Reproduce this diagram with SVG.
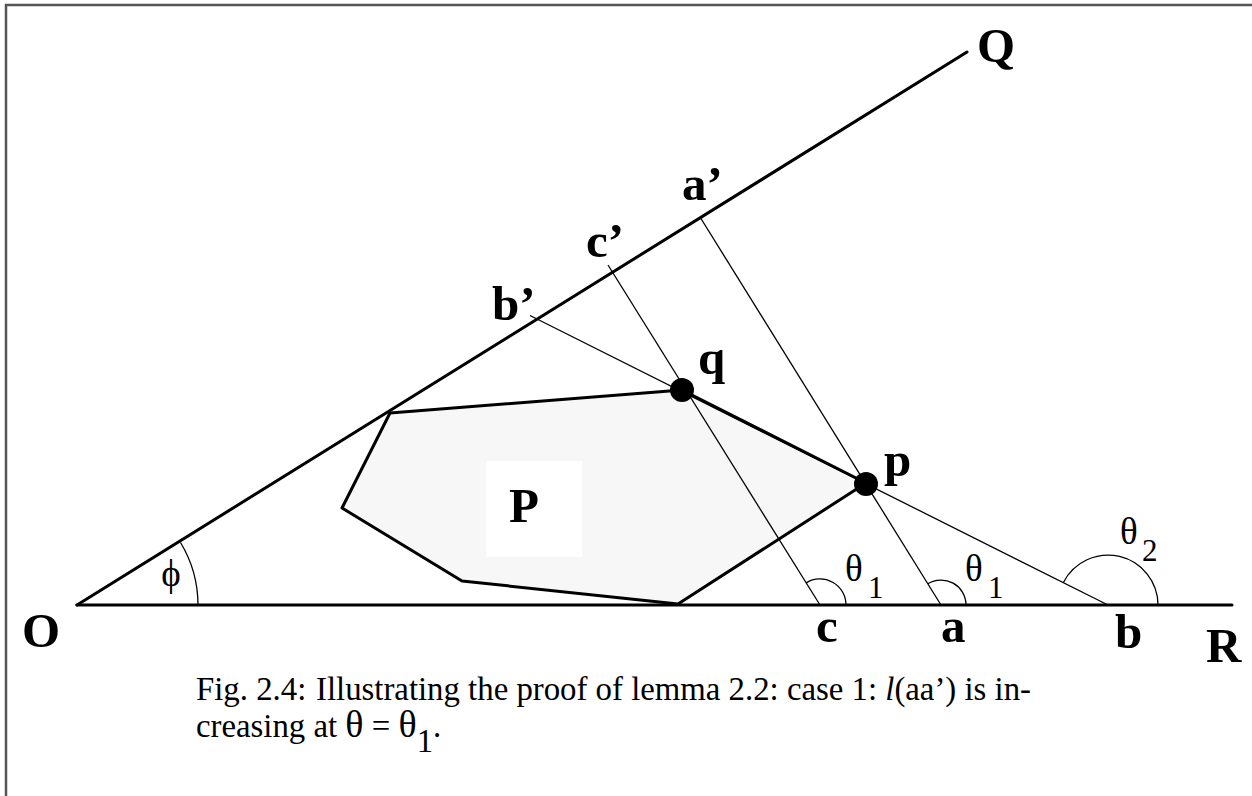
<svg xmlns="http://www.w3.org/2000/svg" width="1252" height="796" viewBox="0 0 1252 796">
<style>
.thick{stroke:#000;stroke-width:3;fill:none;stroke-linecap:round;stroke-linejoin:round}
.thin{stroke:#000;stroke-width:1.3;fill:none}
.lbl{font-family:"Liberation Serif","Times New Roman",serif;font-weight:bold;font-size:49px;fill:#000}
.gr{font-family:"Liberation Serif","Times New Roman",serif;font-size:37px;fill:#000}
.sub{font-family:"Liberation Serif","Times New Roman",serif;font-size:31px;fill:#000}
.cap{font-family:"Liberation Serif","Times New Roman",serif;font-size:32.8px;fill:#000}
.dot{fill:#000}
</style>
<rect width="1252" height="796" fill="#fff"/>
<path d="M6,796 V5 H1252" fill="none" stroke="#555" stroke-width="2.5"/>

<g id="polygon-P">
<polygon points="390,413 682,390 866,483 678,604 462,581 342,508" fill="#f7f7f7" stroke="#000" stroke-width="3" stroke-linejoin="round"/>
<rect x="486" y="461" width="96" height="96" fill="#fff"/>
<text class="lbl" x="509" y="522">P</text>
</g>

<g id="connectors">
<line class="thick" x1="77" y1="605" x2="967" y2="52"/>
<line class="thick" x1="77" y1="605" x2="1232" y2="605"/>
<line class="thin" x1="530" y1="315.5" x2="1108" y2="605"/>
<line class="thin" x1="608" y1="265" x2="820" y2="605"/>
<line class="thin" x1="700" y1="217" x2="941" y2="605"/>
<path class="thin" d="M198,605 A121,121 0 0 0 180.5,542.5"/>
<path class="thin" d="M846,605 A26,26 0 0 0 806.2,582.9"/>
<path class="thin" d="M966,605 A25,25 0 0 0 927.8,583.8"/>
<path class="thin" d="M1158,605 A50,50 0 0 0 1063.4,582.5"/>
</g>

<g id="point-q">
<circle class="dot" cx="682" cy="390" r="12"/>
<text class="lbl" x="698" y="374">q</text>
</g>
<g id="point-p">
<circle class="dot" cx="866" cy="484" r="12"/>
<text class="lbl" x="884" y="476">p</text>
</g>

<g id="label-O"><text class="lbl" x="22" y="647">O</text></g>
<g id="label-Q"><text class="lbl" x="977" y="62">Q</text></g>
<g id="label-R"><text class="lbl" x="1206" y="662">R</text></g>
<g id="label-a1"><text class="lbl" x="682" y="200">a’</text></g>
<g id="label-c1"><text class="lbl" x="586" y="257">c’</text></g>
<g id="label-b1"><text class="lbl" x="492" y="320">b’</text></g>
<g id="label-c"><text class="lbl" x="816" y="642">c</text></g>
<g id="label-a"><text class="lbl" x="941" y="642">a</text></g>
<g id="label-b"><text class="lbl" x="1115" y="648">b</text></g>

<g id="angle-labels">
<text class="gr" x="171" y="586" text-anchor="middle">ϕ</text>
<text class="gr" x="845" y="581">θ</text><text class="sub" x="868" y="598">1</text>
<text class="gr" x="965" y="581">θ</text><text class="sub" x="988" y="598">1</text>
<text class="gr" x="1120" y="544">θ</text><text class="sub" x="1142" y="561">2</text>
</g>

<g id="caption">
<text class="cap" y="700"><tspan x="196">Fig. 2.4:</tspan><tspan x="316">Illustrating the proof of lemma 2.2: case 1: <tspan font-style="italic">l</tspan>(aa’) is in-</tspan></text>
<text class="cap" y="737"><tspan x="196">creasing at </tspan><tspan font-size="38">θ</tspan><tspan> = </tspan><tspan font-size="38">θ</tspan><tspan dy="15">1</tspan><tspan dy="-15">.</tspan></text>
</g>
</svg>
